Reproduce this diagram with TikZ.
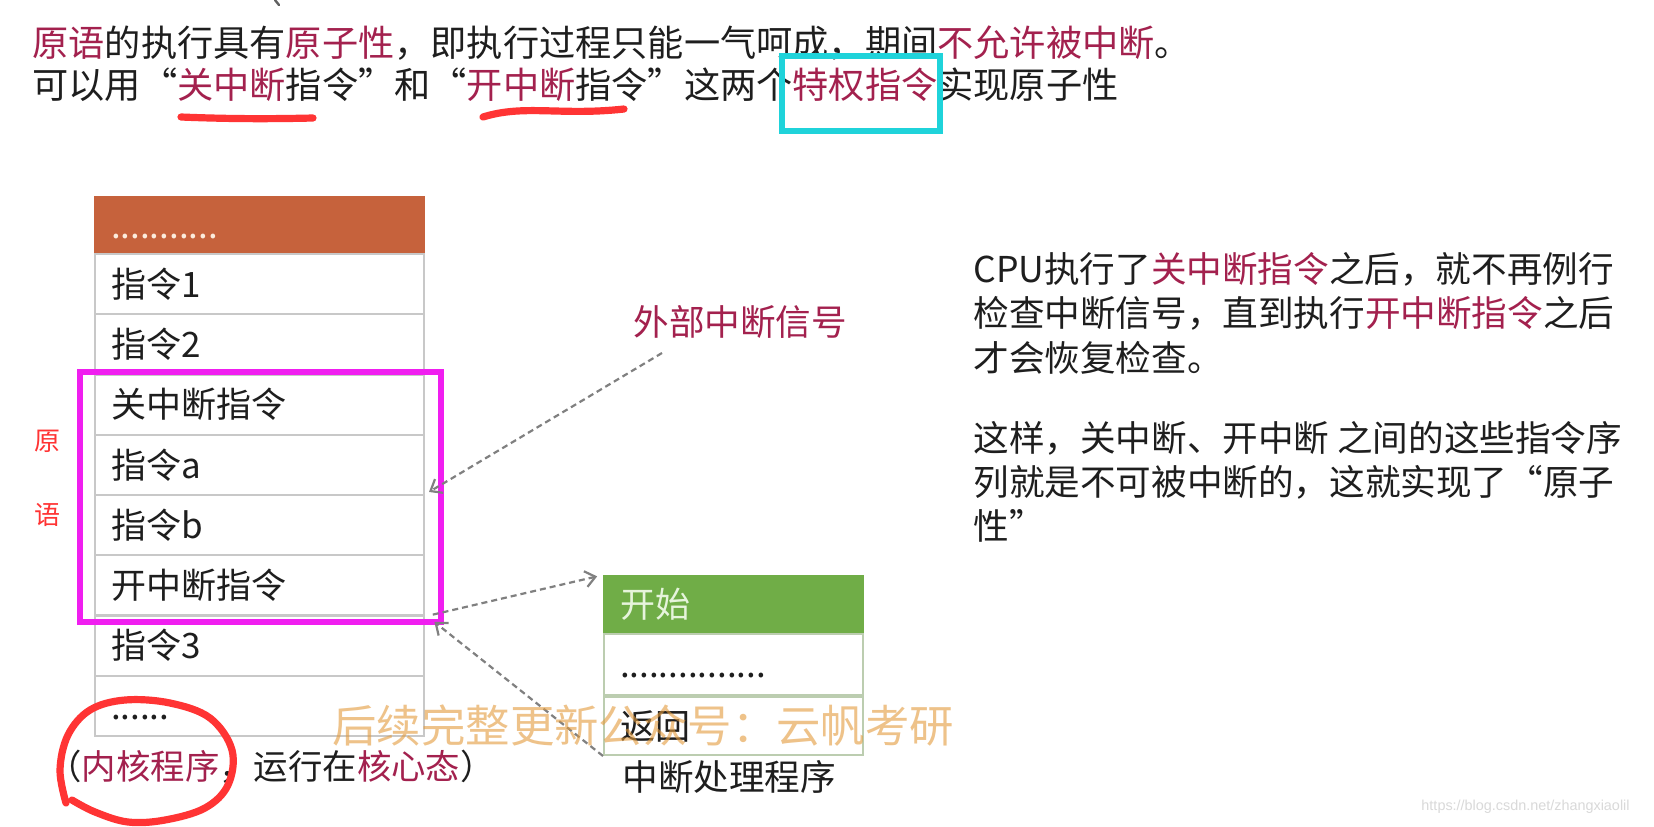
\documentclass[tikz,border=0pt]{standalone}
\usepackage{fontspec}
\setmainfont{Noto Sans CJK SC}
\newfontfamily\urlfont{Liberation Sans}
\usetikzlibrary{arrows.meta,positioning}
\definecolor{txtDark}{HTML}{1E1E1E}
\definecolor{keyRed}{HTML}{A3214E}
\definecolor{markRed}{HTML}{FF3434}
\definecolor{hiMagenta}{HTML}{F01EF0}
\definecolor{hiCyan}{HTML}{1FD3DA}
\definecolor{hdOrange}{HTML}{C6623C}
\definecolor{hdText}{HTML}{FCEBDC}
\definecolor{okGreen}{HTML}{70AD47}
\definecolor{okText}{HTML}{E6F4DC}
\definecolor{cellGray}{HTML}{C8C8C8}
\definecolor{cellGreenGray}{HTML}{BCCDB0}
\definecolor{sigGray}{HTML}{808080}
\definecolor{wmOrange}{HTML}{E39A3B}
\newcommand{\kw}[1]{\textcolor{keyRed}{#1}}
\newcommand{\sixdots}{\vphantom{指}......}

\begin{document}
\begin{tikzpicture}[
    x=0.5pt, y=-0.5pt,
    every node/.style={font=\fontsize{17.8}{21}\selectfont, inner sep=0pt, text=txtDark},
    headline/.style={anchor=west, font=\fontsize{18.1}{21}\selectfont},
    cell/.style={draw=cellGray, line width=1pt, anchor=north west, align=left,
      minimum width=164.5pt, text width=148.5pt, inner xsep=8pt, inner ysep=0pt,
      minimum height=30.1pt, font=\fontsize{17.5}{21}\selectfont},
    rcell/.style={draw=cellGreenGray, minimum width=129.5pt, text width=113.5pt},
    hlbox/.style={draw=hiMagenta, line width=3.3pt},
    marker/.style={draw=markRed, line width=3.6pt, line cap=round, line join=round},
    sig/.style={draw=sigGray, line width=1.1pt, dash pattern=on 3pt off 2pt,
      -{Straight Barb[length=5pt,width=8pt]}},
    node distance=0pt,
  ]
  \useasboundingbox (0,0) rectangle (1654,826);
  \fill[white] (0,0) rectangle (1654,826);

  % heading
  \draw[txtDark!70, line width=1.2pt, line cap=round] (275,0) -- (279,5);
  \node[headline] (head1) at (32,43)
    {\kw{原语}的执行具有\kw{原子性}，即执行过程只能一气呵成，期间\kw{不允许被中断}。};
  \node[headline] (head2) at (32,85)
    {可以用“\kw{关中断}指令”和“\kw{开中断}指令”这两个\kw{特权指令}实现原子性};
  \draw[marker] (181,117) .. controls (230,119) and (270,119) .. (313,118);
  \draw[marker] (483,117) .. controls (525,104) and (560,116) .. (624,109);
  \draw[draw=hiCyan, line width=2.8pt] (782,56) rectangle (940,131);

  % kernel program
  \node[cell, fill=hdOrange, draw=hdOrange, text=hdText, minimum height=28.5pt] (hd)
    at (94,196) {\vphantom{指}...........};
  \foreach \lbl [count=\i] in {指令1,指令2,关中断指令,指令a,指令b,开中断指令,指令3,\sixdots}
    \node[cell] (r\i) at (94,{253+(\i-1)*60.25}) {\lbl};
  \draw[hlbox] (80,372) rectangle (441,622);
  \node[text=markRed, font=\fontsize{13}{14}\selectfont] (yuan) at (47,441) {原};
  \node[text=markRed, font=\fontsize{13}{14}\selectfont] (yu) at (47,515) {语};
  \node[anchor=west, font=\fontsize{17.2}{21}\selectfont] (kcap) at (47,767)
    {（\kw{内核程序}，运行在\kw{核心态}）};
  \draw[marker] plot[smooth, tension=0.6] coordinates {(66,803) (60,770) (68,735) (90,710)
    (125,700) (170,703) (210,718) (232,750) (228,785) (205,808) (165,820) (128,822)
    (95,812) (72,800)};

  % interrupt handler
  \node[cell, rcell, fill=okGreen, draw=okGreen, text=okText, minimum height=28pt] (st)
    at (603,575) {开始};
  \node[cell, rcell, minimum height=30.5pt, below=of st] (md) {\vphantom{指}...............};
  \node[cell, rcell, minimum height=29pt, below=of md] (rt) {返回};
  \node[anchor=west] (isr) at (622,777) {中断处理程序};

  % signal
  \node[anchor=west, text=keyRed] (sigl) at (633,322) {外部中断信号};
  \coordinate (sigfoot) at (662,353);
  \draw[sig] (sigfoot) -- ([shift={(2pt,2pt)}]r4.south east);
  \draw[sig, shorten <=4pt, shorten >=3pt] (r6.south east) -- (st.north west);
  \draw[sig, shorten >=6pt] (rt.south west) -- (r7.north east);

  % explanation
  \node[anchor=west] (ex1) at (973,269) {CPU执行了\kw{关中断指令}之后，就不再例行};
  \node[anchor=west] (ex2) at (973,313) {检查中断信号，直到执行\kw{开中断指令}之后};
  \node[anchor=west] (ex3) at (973,358) {才会恢复检查。};
  \node[anchor=west] (ex4) at (973,438) {这样，关中断、开中断 之间的这些指令序};
  \node[anchor=west] (ex5) at (973,482) {列就是不可被中断的，这就实现了“原子};
  \node[anchor=west] (ex6) at (973,526) {性”};

  % overlays
  \node[anchor=west, text=wmOrange, text opacity=0.6, font=\fontsize{22.2}{26}\selectfont] (wm)
    at (332,726) {后续完整更新公众号：云帆考研};
  \node[anchor=east, text=black!15, font=\urlfont\fontsize{7.2}{8}\selectfont] (url)
    at (1630,807) {https://blog.csdn.net/zhangxiaolil};
\end{tikzpicture}
\end{document}
